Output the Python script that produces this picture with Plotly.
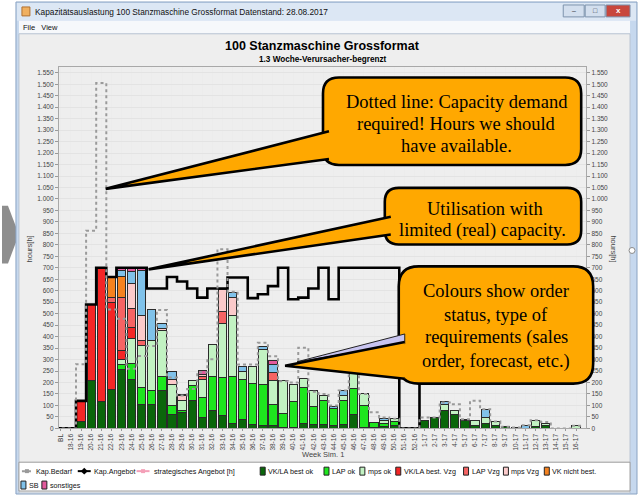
import plotly.graph_objects as go

W, H = 641, 497

weeks = ["BL", "18-16", "19-16", "20-16", "21-16", "22-16", "23-16", "24-16", "25-16",
         "26-16", "27-16", "28-16", "29-16", "30-16", "31-16", "32-16", "33-16", "34-16",
         "35-16", "36-16", "37-16", "38-16", "39-16", "40-16", "41-16", "42-16", "43-16",
         "44-16", "45-16", "46-16", "47-16", "48-16", "49-16", "50-16", "51-16", "52-16",
         "1-17", "2-17", "3-17", "4-17", "5-17", "6-17", "7-17", "8-17", "9-17", "10-17",
         "11-17", "12-17", "13-17", "14-17", "15-17", "16-17"]

vkla_ok = [0, 0, 30, 210, 116, 171, 257, 214, 106, 106, 164, 62, 70, 120, 48, 77, 55, 22, 40, 19,
           12, 12, 5, 5, 22, 19, 19, 12, 19, 62, 5, 3, 7, 12, 0, 0, 36, 48, 77, 59,
           33, 12, 22, 12, 7, 4, 0, 10, 14, 0, 0, 0]
lap_ok = [0, 0, 0, 0, 0, 0, 20, 70, 72, 61, 62, 37, 10, 68, 87, 148, 169, 206, 174, 176,
          180, 93, 60, 112, 156, 77, 101, 75, 104, 113, 94, 23, 14, 19, 0, 0, 0, 0, 0, 0,
          0, 0, 0, 0, 0, 0, 0, 0, 0, 0, 0, 0]
mps_ok = [0, 0, 0, 0, 0, 0, 24, 109, 184, 214, 199, 94, 43, 19, 79, 139, 235, 264, 36, 76,
          152, 104, 142, 76, 39, 68, 22, 0, 19, 64, 55, 0, 15, 10, 0, 0, 0, 0, 28, 20,
          7, 21, 26, 17, 0, 0, 0, 23, 8, 0, 0, 12]
vkla_vzg = [0, 0, 90, 328, 581, 377, 37, 46, 0, 0, 0, 0, 0, 0, 0, 0, 0, 0, 0, 0,
            0, 0, 0, 0, 0, 0, 0, 0, 0, 0, 0, 0, 0, 0, 0, 0, 0, 0, 0, 0,
            0, 0, 0, 0, 0, 0, 0, 0, 0, 0, 0, 0]
lap_vzg = [0, 0, 0, 0, 0, 24, 232, 83, 23, 0, 0, 0, 0, 0, 11, 0, 51, 0, 0, 0,
           0, 34, 0, 0, 0, 0, 0, 0, 0, 0, 0, 0, 0, 0, 0, 0, 0, 0, 0, 0,
           0, 0, 0, 0, 0, 0, 0, 0, 0, 0, 0, 0]
mps_vzg = [0, 0, 0, 0, 0, 0, 0, 108, 105, 0, 10, 21, 22, 0, 11, 0, 94, 78, 0, 0,
           0, 0, 0, 0, 0, 0, 0, 0, 0, 0, 0, 0, 0, 0, 0, 0, 0, 0, 0, 0,
           0, 0, 0, 0, 0, 0, 0, 0, 0, 0, 0, 0]
vk_nicht = [0, 0, 0, 0, 0, 87, 94, 0, 0, 0, 0, 0, 0, 0, 0, 0, 0, 0, 0, 0,
            0, 0, 0, 0, 0, 0, 0, 0, 0, 0, 0, 0, 0, 0, 0, 0, 0, 0, 0, 0,
            0, 0, 0, 0, 0, 0, 0, 0, 0, 0, 0, 0]
sb = [0, 0, 0, 0, 0, 0, 24, 55, 198, 138, 23, 32, 4, 0, 0, 0, 0, 24, 19, 0,
      14, 36, 0, 0, 0, 0, 0, 7, 22, 0, 0, 0, 9, 0, 0, 0, 0, 0, 12, 0,
      0, 0, 36, 0, 0, 0, 14, 0, 0, 0, 0, 0]
sonstiges = [0, 0, 0, 0, 0, 0, 9, 12, 9, 0, 0, 0, 0, 0, 18, 0, 0, 0, 0, 0,
             0, 17, 0, 0, 0, 0, 0, 0, 0, 0, 0, 0, 0, 0, 0, 0, 0, 0, 0, 0,
             0, 0, 0, 0, 0, 0, 0, 0, 0, 0, 0, 0]

kap_bedarf = [0, 0, 280, 862, 1505, 518, 478, 260, 316, 359, 516, 222, 143, 172, 245, 301, 781, 596, 279, 279,
              373, 315, 206, 200, 352, 160, 150, 100, 165, 245, 150, 70, 48, 42, 0, 0, 48, 48, 113, 105,
              40, 120, 84, 30, 7, 4, 14, 35, 28, 0, 0, 12]
kap_angebot = [0, 0, 120, 540, 700, 660, 700, 700, 700, 610, 610, 660, 640, 610, 570, 610, 610, 658, 658, 568,
               585, 620, 700, 563, 570, 610, 700, 563, 700, 700, 700, 700, 700, 700, 0, 0, 650, 650, 650, 650,
               650, 650, 650, 650, 650, 650, 650, 650, 650, 650, 650, 650]

series_names = ["VK/LA best ok", "LAP ok", "mps ok", "VK/LA best. Vzg", "LAP Vzg", "mps Vzg",
                "VK nicht best.", "SB", "sonstiges"]
series_values = [vkla_ok, lap_ok, mps_ok, vkla_vzg, lap_vzg, mps_vzg, vk_nicht, sb, sonstiges]
series_colors = ["#0a660a", "#1ee61e", "#c2f2c2", "#f42626", "#f66464", "#fbcaca",
                 "#f5821f", "#80c2ea", "#e35a9c"]

y_ticks = list(range(0, 1551, 50))
y_tick_text = [f"{v:,}".replace(",", ".") for v in y_ticks]

SANS = "Liberation Sans"
SERIF = "Liberation Serif"
ORANGE = "#ffa800"


def X(p):
    return p / W


def Y(p):
    return 1 - p / H


def pt(x, y):
    return f"{X(x):.5f},{Y(y):.5f}"


def poly(points, close=True):
    s = "M " + " L ".join(pt(x, y) for x, y in points)
    return s + (" Z" if close else "")


def rounded(x0, y0, x1, y1, r):
    return ("M " + pt(x0 + r, y0) + " L " + pt(x1 - r, y0) + " Q " + pt(x1, y0) + " " + pt(x1, y0 + r) +
            " L " + pt(x1, y1 - r) + " Q " + pt(x1, y1) + " " + pt(x1 - r, y1) +
            " L " + pt(x0 + r, y1) + " Q " + pt(x0, y1) + " " + pt(x0, y1 - r) +
            " L " + pt(x0, y0 + r) + " Q " + pt(x0, y0) + " " + pt(x0 + r, y0) + " Z")


n = len(weeks)
idx = list(range(n))

fig = go.Figure()

for name, vals, col in zip(series_names, series_values, series_colors):
    fig.add_bar(x=idx, y=[v if v else None for v in vals], name=name,
                marker=dict(color=col, line=dict(color="#2b2b2b", width=1)),
                showlegend=False, hoverinfo="skip")

edges = [i - 0.5 for i in idx] + [n - 0.5]
fig.add_scatter(x=edges, y=kap_angebot + [kap_angebot[-1]], mode="lines", line_shape="hv",
                line=dict(color="#000000", width=2.6), showlegend=False, hoverinfo="skip")
fig.add_scatter(x=edges, y=kap_bedarf + [kap_bedarf[-1]], mode="lines", line_shape="hv",
                line=dict(color="#9a9a9a", width=2, dash="dot"), showlegend=False, hoverinfo="skip")
fig.add_scatter(x=[0], y=[None], yaxis="y2", mode="lines", showlegend=False, hoverinfo="skip")

px0, px1, py0, py1 = 57, 586, 67, 431

shapes = []
ann = []

# page decorations / window frame
shapes.append(dict(type="path", path=poly([(0, 207), (6, 207), (17, 236), (6, 265), (0, 265)]),
                   fillcolor="#8e8e8e", line=dict(width=0), layer="below"))
shapes.append(dict(type="rect", x0=X(14), x1=X(637), y0=Y(497), y1=Y(2),
                   fillcolor="#c6d8ee", line=dict(color="#8aa3c2", width=1), layer="below"))
shapes.append(dict(type="rect", x0=X(15), x1=X(636), y0=Y(21), y1=Y(3),
                   fillcolor="#dce7f4", line=dict(width=0), layer="below"))
shapes.append(dict(type="rect", x0=X(17), x1=X(630), y0=Y(34), y1=Y(21),
                   fillcolor="#f6f8fb", line=dict(width=0), layer="below"))
shapes.append(dict(type="rect", x0=X(17), x1=X(630), y0=Y(496), y1=Y(34),
                   fillcolor="#eeeeee", line=dict(color="#b8c4d2", width=1), layer="below"))
shapes.append(dict(type="rect", x0=X(17), x1=X(630), y0=Y(494), y1=Y(465),
                   fillcolor="#ffffff", line=dict(color="#9c9c9c", width=1), layer="below"))
# title bar icon and buttons
shapes.append(dict(type="rect", x0=X(20), x1=X(28), y0=Y(16), y1=Y(7),
                   fillcolor="#f0b060", line=dict(color="#b07030", width=1), layer="below"))
for bx0, bx1, col in [(563, 584, "#d3dfee"), (585, 605, "#d3dfee"), (606, 630, "#c8473d")]:
    shapes.append(dict(type="rect", x0=X(bx0), x1=X(bx1), y0=Y(17), y1=Y(5),
                       fillcolor=col, line=dict(color="#7d93ad", width=1), layer="below"))
shapes.append(dict(type="circle", x0=X(629), x1=X(635), y0=Y(255), y1=Y(249),
                   fillcolor="#ffffff", line=dict(color="#8a8a8a", width=1), layer="below"))

ann.append(dict(x=X(31), y=Y(12), text="Kapazitätsauslastung 100 Stanzmaschine Grossformat Datenstand: 28.08.2017",
                xanchor="left", yanchor="middle", font=dict(family=SANS, size=8.3, color="#111")))
ann.append(dict(x=X(573.5), y=Y(11), text="–", xanchor="center", yanchor="middle",
                font=dict(family=SANS, size=7, color="#334")))
ann.append(dict(x=X(595), y=Y(11), text="□", xanchor="center", yanchor="middle",
                font=dict(family=SANS, size=7, color="#334")))
ann.append(dict(x=X(618), y=Y(11), text="<b>x</b>", xanchor="center", yanchor="middle",
                font=dict(family=SANS, size=8, color="#ffffff")))
ann.append(dict(x=X(19), y=Y(27.5), text="File   View", xanchor="left", yanchor="middle",
                font=dict(family=SANS, size=7.5, color="#111")))

# chart titles
ann.append(dict(x=X(322), y=Y(46), text="<b>100 Stanzmaschine Grossformat</b>", xanchor="center", yanchor="middle",
                font=dict(family=SANS, size=12.5, color="#000")))
ann.append(dict(x=X(322), y=Y(59.5), text="<b>1.3 Woche-Verursacher-begrenzt</b>", xanchor="center", yanchor="middle",
                font=dict(family=SANS, size=8.2, color="#000")))
ann.append(dict(x=X(28), y=Y(250), text="hours[h]", textangle=-90, xanchor="center", yanchor="middle",
                font=dict(family=SANS, size=7.5, color="#444")))
ann.append(dict(x=X(613), y=Y(250), text="hours[h]", textangle=90, xanchor="center", yanchor="middle",
                font=dict(family=SANS, size=7.5, color="#444")))
ann.append(dict(x=X(322), y=Y(457), text="Week Sim. 1", xanchor="center", yanchor="middle",
                font=dict(family=SANS, size=7.5, color="#444")))

# legend (manual)
LY1, LY2 = 474, 488
lf = dict(family=SANS, size=7.2, color="#111")
shapes.append(dict(type="line", x0=X(20), x1=X(30), y0=Y(LY1), y1=Y(LY1),
                   line=dict(color="#9a9a9a", width=2, dash="dot"), layer="above"))
shapes.append(dict(type="rect", x0=X(23), x1=X(27), y0=Y(LY1 + 2), y1=Y(LY1 - 2),
                   fillcolor="#9a9a9a", line=dict(width=0), layer="above"))
ann.append(dict(x=X(32), y=Y(LY1), text="Kap.Bedarf", xanchor="left", yanchor="middle", font=lf))
shapes.append(dict(type="line", x0=X(76), x1=X(89), y0=Y(LY1), y1=Y(LY1),
                   line=dict(color="#000", width=2), layer="above"))
shapes.append(dict(type="path", path=poly([(82.5, LY1 - 3.5), (86, LY1), (82.5, LY1 + 3.5), (79, LY1)]),
                   fillcolor="#000", line=dict(width=0), layer="above"))
ann.append(dict(x=X(90), y=Y(LY1), text="Kap.Angebot", xanchor="left", yanchor="middle", font=lf))
shapes.append(dict(type="line", x0=X(135), x1=X(148), y0=Y(LY1), y1=Y(LY1),
                   line=dict(color="#f4a0b8", width=2), layer="above"))
shapes.append(dict(type="rect", x0=X(139.5), x1=X(143.5), y0=Y(LY1 + 2), y1=Y(LY1 - 2),
                   fillcolor="#f4a0b8", line=dict(width=0), layer="above"))
ann.append(dict(x=X(150), y=Y(LY1), text="strategisches Angebot [h]", xanchor="left", yanchor="middle", font=lf))

leg_pos = [(259, LY1), (323, LY1), (359, LY1), (395, LY1), (463, LY1), (503, LY1), (544, LY1), (19, LY2), (40, LY2)]
for (lx, ly), name, col in zip(leg_pos, series_names, series_colors):
    shapes.append(dict(type="rect", x0=X(lx), x1=X(lx + 5), y0=Y(ly + 4), y1=Y(ly - 4),
                       fillcolor=col, line=dict(color="#222", width=1), layer="above"))
    ann.append(dict(x=X(lx + 6), y=Y(ly), text=name, xanchor="left", yanchor="middle", font=lf))

# callouts
CL = dict(color="#000000", width=2.6)
shapes.append(dict(type="path", path=rounded(322, 78, 581, 166, 16), fillcolor=ORANGE, line=CL, layer="above"))
shapes.append(dict(type="path", path=poly([(328, 132), (104, 190), (328, 160)], close=False),
                   fillcolor=ORANGE, line=CL, layer="above"))
shapes.append(dict(type="path", path=rounded(384, 189, 581, 246, 14), fillcolor=ORANGE, line=CL, layer="above"))
shapes.append(dict(type="path", path=poly([(390, 218), (147, 271), (390, 236)], close=False),
                   fillcolor=ORANGE, line=CL, layer="above"))
shapes.append(dict(type="path", path=rounded(398, 268, 593, 386, 20), fillcolor=ORANGE, line=CL, layer="above"))
shapes.append(dict(type="path", path=poly([(296, 364), (404, 336), (404, 346)]),
                   fillcolor="#c8c4f0", line=dict(color="#222", width=1), layer="above"))
shapes.append(dict(type="path", path=poly([(404, 344), (284, 368), (404, 381)], close=False),
                   fillcolor=ORANGE, line=CL, layer="above"))

cf = dict(family=SERIF, size=18.5, color="#000")
for txt, cx, cy in [("Dotted line: Capacity demand", 456, 103), ("required! Hours we should", 456, 125),
                    ("have available.", 456, 147),
                    ("Utilisation with", 485, 210), ("limited (real) capacity.", 482, 232),
                    ("Colours show order", 496, 293), ("status, type of", 496, 317),
                    ("requirements (sales", 496, 340), ("order, forecast, etc.)", 496, 364)]:
    ann.append(dict(x=X(cx), y=Y(cy), text=txt, xanchor="center", yanchor="middle", font=cf))

for a in ann:
    a.setdefault("xref", "paper")
    a.setdefault("yref", "paper")
    a.setdefault("showarrow", False)
for s in shapes:
    s.setdefault("xref", "paper")
    s.setdefault("yref", "paper")

tickfont = dict(family=SANS, size=6.5, color="#444")
fig.update_layout(
    width=W, height=H, margin=dict(l=0, r=0, t=0, b=0),
    paper_bgcolor="#ffffff", plot_bgcolor="#ffffff",
    barmode="stack", bargap=0.18, showlegend=False,
    xaxis=dict(domain=[X(px0), X(px1)], range=[-0.2, 52.0], tickvals=idx, ticktext=weeks,
               tickangle=-90, tickfont=tickfont, showgrid=True, gridcolor="#ececec", gridwidth=1,
               showline=True, linecolor="#a8a8a8", mirror=True, ticks="outside", ticklen=2,
               tickcolor="#999", zeroline=False),
    yaxis=dict(domain=[Y(py1), Y(py0)], range=[0, 1577], tickvals=y_ticks, ticktext=y_tick_text,
               tickfont=tickfont, showgrid=True, gridcolor="#e3e3e3", gridwidth=1,
               showline=True, linecolor="#a8a8a8", ticks="outside", ticklen=3, tickcolor="#999",
               zeroline=False),
    yaxis2=dict(overlaying="y", side="right", range=[0, 1577], tickvals=y_ticks, ticktext=y_tick_text,
                tickfont=tickfont, showgrid=False, showline=True, linecolor="#a8a8a8",
                ticks="outside", ticklen=3, tickcolor="#999", zeroline=False),
    shapes=shapes, annotations=ann,
)

fig.write_html("out.html", config={"displayModeBar": False},
               post_script="document.body.style.margin='0px';document.body.style.overflow='hidden';")
